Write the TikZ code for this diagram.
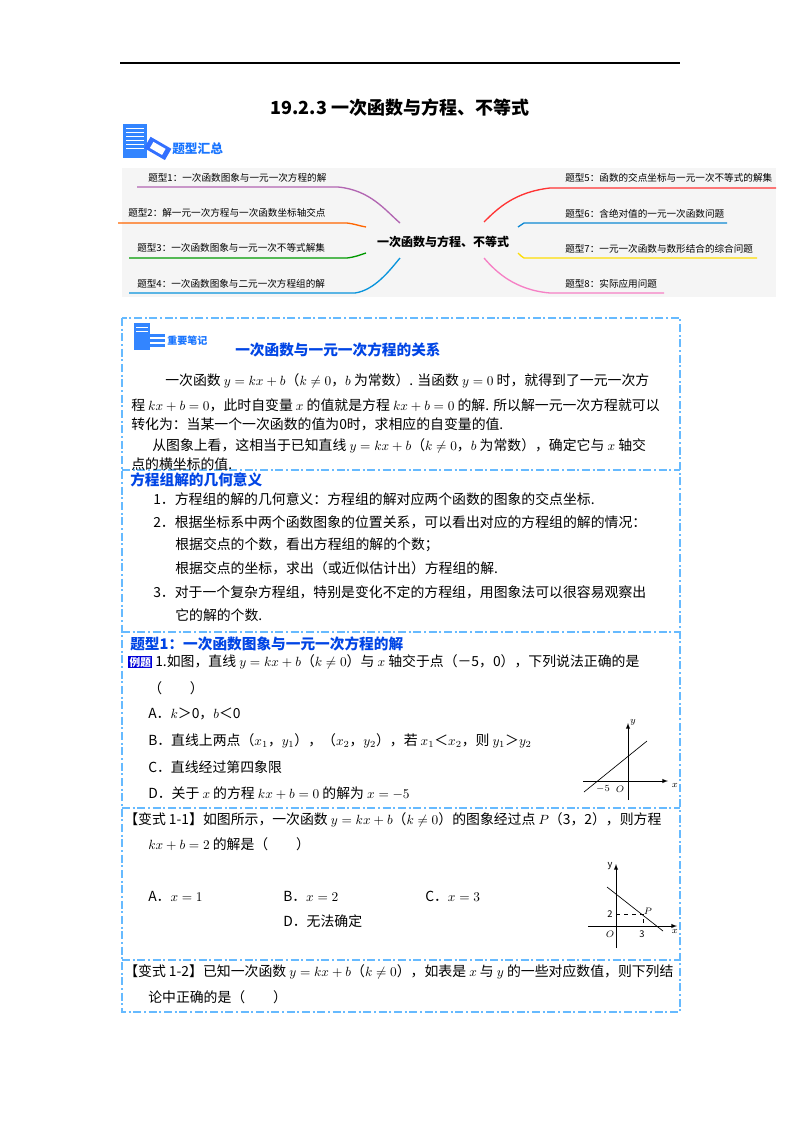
\documentclass[tikz,border=0pt]{standalone}
\usepackage{fontspec}
\setmainfont{Noto Sans CJK SC}
\begin{document}
\begin{tikzpicture}[x=0.75pt,y=-0.75pt,
  body/.style={anchor=west,inner sep=0pt,font=\fontsize{10.4pt}{12pt}\selectfont},
  mm/.style={anchor=west,inner sep=0pt,font=\fontsize{7.2pt}{8pt}\selectfont},
  head/.style={anchor=west,inner sep=0pt,text=blue!70!cyan!90!black,font=\bfseries\fontsize{11pt}{13pt}\selectfont},
  sep/.style={draw=blue!45!cyan!60,dash pattern=on 6pt off 2pt on 1.5pt off 2pt,line width=0.8pt},
  br/.style={line width=1pt},
  ax/.style={-latex,line width=0.5pt},
  sm/.style={inner sep=0pt,font=\fontsize{7pt}{8pt}\selectfont}]
\useasboundingbox (0,0) rectangle (800,1132);
\fill[white] (0,0) rectangle (800,1132);
% top rule and title
\draw[line width=0.8pt] (120,63) -- (680,63);
\node[inner sep=0pt,font=\bfseries\fontsize{13.5pt}{15pt}\selectfont] (title) at (400,108) {19.2.3 一次函数与方程、不等式};
% icon 1
\fill[blue!60!cyan!80] (123,124) rectangle (147,158);
\foreach \yy in {128,132,136,140,144,148} \draw[white,line width=0.6pt] (126,\yy) -- (144,\yy);
\fill[blue!70!cyan!80,rotate around={-30:(158,148)}] (146,142) rectangle (170,155);
\fill[white,rotate around={-30:(158,148)}] (151,145) rectangle (165,152);
\node[inner sep=0pt,anchor=west,text=blue!60!cyan!90,font=\bfseries\fontsize{9.5pt}{11pt}\selectfont] (tx) at (172,149) {题型汇总};
% mind map
\fill[gray!8] (122,168) rectangle (776,297);
\node[inner sep=2pt,font=\bfseries\fontsize{9pt}{10pt}\selectfont] (c) at (443,242) {一次函数与方程、不等式};
\draw[br,violet!60] (137,187) -- (338,187) .. controls (370,190) and (385,210) .. (400,223);
\draw[br,orange!80!red] (118,223) -- (347,223) .. controls (355,224) and (360,226) .. (366,227);
\draw[br,green!60!black] (129,258) -- (347,258) .. controls (355,257) and (360,255) .. (366,253);
\draw[br,cyan!80!blue] (129,293) -- (355,293) .. controls (375,290) and (390,270) .. (400,258);
\draw[br,red!80] (776,188) -- (550,188) .. controls (515,192) and (498,208) .. (484,222);
\draw[br,cyan!70!blue] (727,223) -- (524,223) .. controls (522,224) and (520,226) .. (518,227);
\draw[br,yellow!80!orange] (757,258) -- (524,258) .. controls (522,257) and (520,255) .. (518,253);
\draw[br,magenta!50] (664,293) -- (550,293) .. controls (515,290) and (496,272) .. (484,258);
\node[mm] (t1) at (148,178) {题型1：一次函数图象与一元一次方程的解};
\node[mm] (t2) at (128,213) {题型2：解一元一次方程与一次函数坐标轴交点};
\node[mm] (t3) at (137,248) {题型3：一次函数图象与一元一次不等式解集};
\node[mm] (t4) at (137,284) {题型4：一次函数图象与二元一次方程组的解};
\node[mm] (t5) at (565,178) {题型5：函数的交点坐标与一元一次不等式的解集};
\node[mm] (t6) at (565,214) {题型6：含绝对值的一元一次函数问题};
\node[mm] (t7) at (565,249) {题型7：一元一次函数与数形结合的综合问题};
\node[mm] (t8) at (565,284) {题型8：实际应用问题};
% dashed frame
\draw[sep] (122,318) rectangle (680,1012);
\draw[sep] (122,470) -- (680,470);
\draw[sep] (122,632) -- (680,632);
\draw[sep] (122,808) -- (680,808);
\draw[sep] (122,960) -- (680,960);
% icon 2
\fill[blue!60!cyan!80] (134,323) rectangle (150,350);
\foreach \yy in {334,339,344} \fill[blue!60!cyan!80] (146,\yy) rectangle (165,\yy+3);
\foreach \yy in {327,331} \draw[white,line width=0.5pt] (136,\yy) -- (148,\yy);
\node[inner sep=0pt,anchor=west,text=blue!60!cyan!90,font=\bfseries\fontsize{7.5pt}{9pt}\selectfont] (note) at (167,341) {重要笔记};
\node[head] (h1) at (235,350) {一次函数与一元一次方程的关系};
\node[body] (p1) at (165,381) {一次函数 $y=kx+b$（$k\neq0$，$b$ 为常数）. 当函数 $y=0$ 时，就得到了一元一次方};
\node[body] (p2) at (131,405) {程 $kx+b=0$，此时自变量 $x$ 的值就是方程 $kx+b=0$ 的解. 所以解一元一次方程就可以};
\node[body] (p3) at (131,424) {转化为：当某一个一次函数的值为0时，求相应的自变量的值.};
\node[body] (p4) at (152,446) {从图象上看，这相当于已知直线 $y=kx+b$（$k\neq0$，$b$ 为常数），确定它与 $x$ 轴交};
\node[body] (p5) at (131,464) {点的横坐标的值.};
\node[head] (h2) at (130,480) {方程组解的几何意义};
\node[body] (q1) at (153,499) {1．方程组的解的几何意义：方程组的解对应两个函数的图象的交点坐标.};
\node[body] (q2) at (153,522) {2．根据坐标系中两个函数图象的位置关系，可以看出对应的方程组的解的情况：};
\node[body] (q3) at (175,545) {根据交点的个数，看出方程组的解的个数；};
\node[body] (q4) at (175,568) {根据交点的坐标，求出（或近似估计出）方程组的解.};
\node[body] (q5) at (153,592) {3．对于一个复杂方程组，特别是变化不定的方程组，用图象法可以很容易观察出};
\node[body] (q6) at (175,615) {它的解的个数.};
\node[head] (h3) at (130,644) {题型1：一次函数图象与一元一次方程的解};
\node[fill=blue!85!black,text=white,inner sep=1pt,anchor=west,font=\bfseries\fontsize{8pt}{9pt}\selectfont] (ex) at (128,662) {例题};
\node[body] (e1) at (155,662) {1.如图，直线 $y=kx+b$（$k\neq0$）与 $x$ 轴交于点（－5，0），下列说法正确的是};
\node[body] (e2) at (148,688) {（　　）};
\node[body] (ea) at (148,714) {A．$k$＞0，$b$＜0};
\node[body] (eb) at (148,741) {B．直线上两点（$x_1$，$y_1$），（$x_2$，$y_2$），若 $x_1$＜$x_2$，则 $y_1$＞$y_2$};
\node[body] (ec) at (148,767) {C．直线经过第四象限};
\node[body] (ed) at (148,793) {D．关于 $x$ 的方程 $kx+b=0$ 的解为 $x=-5$};
% graph 1
\coordinate (g1l) at (583,781); \coordinate (g1r) at (668,781);
\coordinate (g1b) at (628,800); \coordinate (g1t) at (628,723);
\coordinate (l1a) at (584,792); \coordinate (l1b) at (647,741);
\draw[ax] (g1l) -- (g1r);
\draw[ax] (g1b) -- (g1t);
\draw[line width=0.5pt] (l1a) -- (l1b);
\node[sm] (m5) at (603,789) {$-5$};
\node[sm] (o1) at (620,789) {$O$};
\node[sm] (y1) at (633,722) {$y$};
\node[sm] (x1) at (675,785) {$x$};
% variant 1-1
\node[body] (v1) at (124,820) {【变式 1-1】如图所示，一次函数 $y=kx+b$（$k\neq0$）的图象经过点 $P$（3，2），则方程};
\node[body] (v2) at (148,844) {$kx+b=2$ 的解是（　　）};
\node[body] (va) at (148,896) {A．$x=1$};
\node[body] (vb) at (283,896) {B．$x=2$};
\node[body] (vc) at (425,896) {C．$x=3$};
\node[body] (vd) at (283,921) {D．无法确定};
% graph 2
\coordinate (g2l) at (588,926); \coordinate (g2r) at (677,926);
\coordinate (g2b) at (616,948); \coordinate (g2t) at (616,864);
\coordinate (l2a) at (607,887); \coordinate (l2b) at (663,931);
\coordinate (pp) at (643,914); \coordinate (py) at (616,914); \coordinate (px) at (643,926);
\draw[ax] (g2l) -- (g2r);
\draw[ax] (g2b) -- (g2t);
\draw[line width=0.5pt] (l2a) -- (l2b);
\draw[dashed,line width=0.4pt] (py) -- (pp) -- (px);
\node[sm] (n2) at (610,914) {2};
\node[sm] (n3) at (642,934) {3};
\node[sm] (o2) at (610,934) {$O$};
\node[sm] (pl) at (648,911) {$P$};
\node[sm] (y2) at (610,866) {y};
\node[sm] (x2) at (675,931) {$x$};
% variant 1-2
\node[body] (w1) at (124,972) {【变式 1-2】已知一次函数 $y=kx+b$（$k\neq0$），如表是 $x$ 与 $y$ 的一些对应数值，则下列结};
\node[body] (w2) at (148,997) {论中正确的是（　　）};
\end{tikzpicture}
\end{document}
